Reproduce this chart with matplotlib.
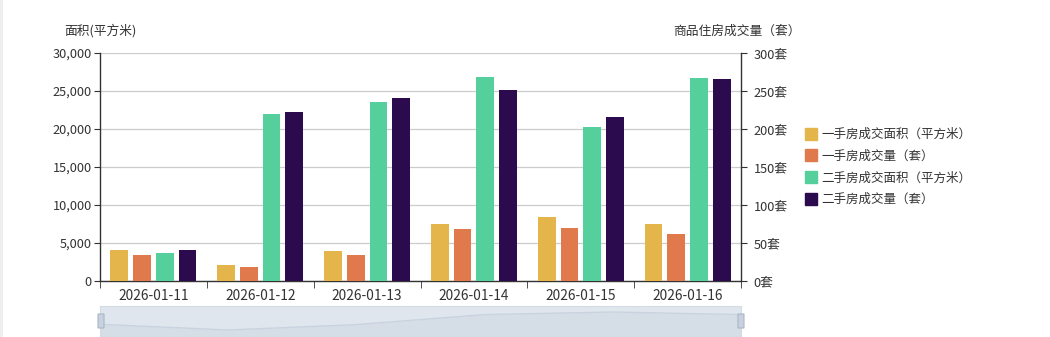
import numpy as np
import matplotlib
matplotlib.use("Agg")
import matplotlib.pyplot as plt
from matplotlib.patches import Rectangle, FancyBboxPatch
from matplotlib.lines import Line2D

plt.rcParams['font.family'] = ['Noto Sans CJK SC', 'DejaVu Sans']

# 数据
dates = ['2026-01-11', '2026-01-12', '2026-01-13', '2026-01-14', '2026-01-15', '2026-01-16']
new_area = [4100, 2100, 4000, 7500, 8400, 7500]        # 一手房成交面积（平方米）
new_count = [34, 18, 34, 68, 70, 62]                   # 一手房成交量（套）
second_area = [3700, 22000, 23600, 26900, 20200, 26700]  # 二手房成交面积（平方米）
second_count = [41, 222, 241, 251, 216, 266]           # 二手房成交量（套）

names = ['一手房成交面积（平方米）', '一手房成交量（套）', '二手房成交面积（平方米）', '二手房成交量（套）']
colors = ['#e3b54b', '#e07a4c', '#55cf9b', '#2b0a4d']

W, H = 1050, 337
fig = plt.figure(figsize=(W / 100, H / 100), dpi=100)
fig.patch.set_facecolor('white')

# 左侧灰边
fig.patches.append(Rectangle((0, 0), 3 / W, 1, transform=fig.transFigure,
                             facecolor='#eeeeee', edgecolor='none'))

x0, x1, ytop, ybot = 100, 741, 53, 281
ax = fig.add_axes([x0 / W, (H - ybot) / H, (x1 - x0) / W, (ybot - ytop) / H])
ax2 = ax.twinx()

x = np.arange(len(dates))
bw = 0.166
step = 0.2125
offs = [(i - 1.5) * step for i in range(4)]

ax.bar(x + offs[0], new_area, bw, color=colors[0], zorder=3)
ax2.bar(x + offs[1], new_count, bw, color=colors[1], zorder=3)
ax.bar(x + offs[2], second_area, bw, color=colors[2], zorder=3)
ax2.bar(x + offs[3], second_count, bw, color=colors[3], zorder=3)

ax.set_xlim(-0.5, len(dates) - 0.5)
ax.set_ylim(0, 30000)
ax2.set_ylim(0, 300)
ax.set_yticks(np.arange(0, 30001, 5000))
ax.set_yticklabels([f'{v:,}' for v in range(0, 30001, 5000)])
ax2.set_yticks(np.arange(0, 301, 50))
ax2.set_yticklabels([f'{v}套' for v in range(0, 301, 50)])

ax.grid(axis='y', color='#cccccc', linewidth=0.9, zorder=0)
ax.set_axisbelow(True)

ax.set_xticks(x)
ax.set_xticklabels(dates)
ax.set_xticks(np.arange(-0.5, len(dates), 1), minor=True)
ax.tick_params(axis='x', which='major', length=0, pad=6, labelsize=9.9, labelcolor='#333333')
ax.tick_params(axis='x', which='minor', length=5, color='#333333', direction='out')
ax.tick_params(axis='y', length=4, color='#333333', labelsize=9.2, labelcolor='#333333', pad=2)
ax2.tick_params(axis='y', length=4, color='#333333', labelsize=9.2, labelcolor='#333333', pad=5)

for a in (ax, ax2):
    a.spines['top'].set_visible(False)
    for s in ('left', 'right', 'bottom'):
        a.spines[s].set_color('#333333')
        a.spines[s].set_linewidth(1)
ax.spines['right'].set_visible(False)
ax2.spines['left'].set_visible(False)
ax2.spines['bottom'].set_visible(False)

fig.text(100 / W, (H - 31) / H, '面积(平方米)', ha='center', va='center', fontsize=9.2, color='#333333')
fig.text(737 / W, (H - 31) / H, '商品住房成交量（套）', ha='center', va='center', fontsize=9.2, color='#333333')

# 图例
handles = [Line2D([0], [0], marker='s', linestyle='none', markersize=9,
                  markerfacecolor=c, markeredgecolor=c) for c in colors]
fig.legend(handles, names, loc='upper left', bbox_to_anchor=(800 / W, (H - 123) / H),
           frameon=False, fontsize=9, labelspacing=0.7, handletextpad=0.3,
           handlelength=1.0, borderaxespad=0, labelcolor='#333333')

# 数据缩放条
zy0, zy1 = 306, 337
zax = fig.add_axes([x0 / W, (H - zy1) / H, (x1 - x0) / W, (zy1 - zy0) / H])
zax.set_xlim(0, len(dates) - 1)
zax.set_ylim(-350, 10500)
zax.set_facecolor('#dfe6ee')
zax.fill_between(x, new_area, -350, color='#d5dde7', linewidth=0)
zax.plot(x, new_area, color='#c9d3df', linewidth=1)
zax.set_xticks([])
zax.set_yticks([])
for s in zax.spines.values():
    s.set_color('#d3dbe5')
for hx in (x0 + 1, x1):
    fig.patches.append(FancyBboxPatch(((hx - 3) / W, (H - 328) / H), 6 / W, 14 / H,
                                      boxstyle='round,pad=0', transform=fig.transFigure,
                                      facecolor='#c8d2df', edgecolor='#aab6c6', linewidth=0.8))

fig.savefig('out.png', dpi=100)
